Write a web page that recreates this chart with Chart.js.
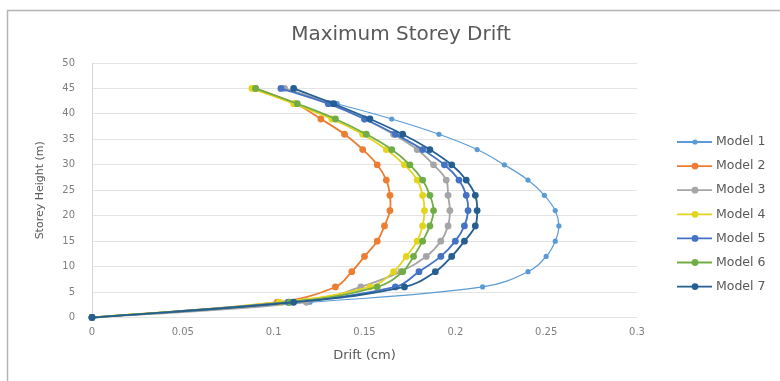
<!DOCTYPE html>
<html>
<head>
<meta charset="utf-8">
<script src="https://cdn.jsdelivr.net/npm/chart.js@4.4.1/dist/chart.umd.min.js"></script>
<style>
  body { margin: 0; background: #fff; }
  canvas { display: block; background: #fff; }
</style>
</head>
<body>
<canvas id="driftChart" width="780" height="381"></canvas>
<script>
// storey heights (m)
const heights = [0, 3, 6, 9, 12, 15, 18, 21, 24, 27, 30, 33, 36, 39, 42, 45];

// drift (cm), one value per height
const model1 = [0, 0.120, 0.215, 0.240, 0.250, 0.255, 0.257, 0.255, 0.249, 0.240, 0.227, 0.212, 0.191, 0.165, 0.135, 0.105];
const model2 = [0, 0.102, 0.134, 0.143, 0.150, 0.157, 0.161, 0.164, 0.164, 0.162, 0.157, 0.149, 0.139, 0.126, 0.112, 0.090];
const model3 = [0, 0.118, 0.148, 0.170, 0.184, 0.192, 0.196, 0.197, 0.196, 0.195, 0.188, 0.179, 0.166, 0.150, 0.131, 0.106];
const model4 = [0, 0.103, 0.153, 0.166, 0.173, 0.179, 0.182, 0.183, 0.182, 0.179, 0.172, 0.162, 0.149, 0.132, 0.111, 0.088];
const model5 = [0, 0.108, 0.167, 0.180, 0.192, 0.200, 0.205, 0.207, 0.206, 0.202, 0.194, 0.182, 0.167, 0.150, 0.130, 0.104];
const model6 = [0, 0.109, 0.157, 0.171, 0.177, 0.182, 0.186, 0.188, 0.186, 0.182, 0.175, 0.165, 0.151, 0.134, 0.113, 0.090];
const model7 = [0, 0.111, 0.172, 0.189, 0.198, 0.205, 0.211, 0.212, 0.211, 0.206, 0.198, 0.186, 0.171, 0.153, 0.133, 0.111];

const seriesNames = ["Model 1", "Model 2", "Model 3", "Model 4", "Model 5", "Model 6", "Model 7"];
const seriesValues = [model1, model2, model3, model4, model5, model6, model7];
const seriesColors = ["#5b9bd5", "#ed7d31", "#a5a5a5", "#e3d41e", "#4472c4", "#70ad47", "#255e91"];

const xTickLabels = ["0", "0.05", "0.1", "0.15", "0.2", "0.25", "0.3"];
const yTickLabels = ["0", "5", "10", "15", "20", "25", "30", "35", "40", "45", "50"];

const chartTitle = "Maximum Storey Drift";
const fontName = '"DejaVu Sans", sans-serif';

const datasets = seriesValues.map((values, i) => ({
  label: seriesNames[i],
  data: values.map((v, j) => ({ x: v, y: heights[j] })),
  showLine: true,
  tension: 0.4,
  borderColor: seriesColors[i],
  backgroundColor: seriesColors[i],
  pointBackgroundColor: seriesColors[i],
  pointBorderColor: seriesColors[i],
  borderWidth: i === 0 ? 1.2 : 1.8,
  pointRadius: i === 0 ? 2.6 : 3.4,
  pointBorderWidth: 0,
  clip: false,
  order: seriesNames.length - i, // later models drawn on top, like Excel
}));

// frame, title and the legend on the right
const decorations = {
  id: "decorations",
  beforeDraw(chart) {
    const c = chart.ctx;
    c.save();
    c.strokeStyle = "#b4b4b4";
    c.lineWidth = 1.5;
    c.strokeRect(7.5, 10.5, 800, 400);
    c.fillStyle = "#595959";
    c.font = "20px " + fontName;
    c.textAlign = "center";
    c.textBaseline = "middle";
    c.fillText(chartTitle, 401, 35);
    c.restore();
  },
  afterDraw(chart) {
    const c = chart.ctx;
    chart.data.datasets.forEach((ds, i) => {
      const y = 142 + i * 24.1;
      c.save();
      c.strokeStyle = ds.borderColor;
      c.lineWidth = 1.8;
      c.beginPath();
      c.moveTo(677, y);
      c.lineTo(712, y);
      c.stroke();
      c.fillStyle = ds.pointBackgroundColor;
      c.beginPath();
      c.arc(695, y, ds.pointRadius, 0, Math.PI * 2);
      c.fill();
      c.fillStyle = "#595959";
      c.font = "12.5px " + fontName;
      c.textBaseline = "middle";
      c.fillText(ds.label, 716, y);
      c.restore();
    });
  },
};

new Chart(document.getElementById("driftChart"), {
  type: "scatter",
  data: { datasets: datasets },
  options: {
    responsive: false,
    animation: false,
    layout: { padding: { left: 8, right: 143, top: 63, bottom: 8 } },
    plugins: {
      legend: { display: false },
      title: { display: false },
      tooltip: { enabled: false },
    },
    scales: {
      x: {
        type: "linear",
        min: 0,
        max: 0.3,
        ticks: {
          stepSize: 0.05,
          padding: 9,
          color: "#7f7f7f",
          font: { family: fontName, size: 10 },
          callback: (v, i) => xTickLabels[i],
        },
        grid: { display: false, drawTicks: false },
        border: { display: false },
        title: {
          display: true,
          text: "Drift (cm)",
          color: "#595959",
          font: { family: fontName, size: 13 },
          padding: { top: 4, bottom: 10 },
        },
        afterFit: (scale) => { scale.height = 55.5; },
      },
      y: {
        type: "linear",
        min: 0,
        max: 50,
        ticks: {
          stepSize: 5,
          padding: 17,
          color: "#7f7f7f",
          font: { family: fontName, size: 10 },
          callback: (v, i) => yTickLabels[i],
        },
        grid: { color: "#e3e3e3", drawTicks: false },
        border: { color: "#d6d6d6" },
        title: {
          display: true,
          text: "Storey Height (m)",
          color: "#595959",
          font: { family: fontName, size: 11 },
          padding: { top: 26, bottom: 4 },
        },
        afterFit: (scale) => { scale.width = 84; },
      },
    },
  },
  plugins: [decorations],
});
</script>
</body>
</html>
